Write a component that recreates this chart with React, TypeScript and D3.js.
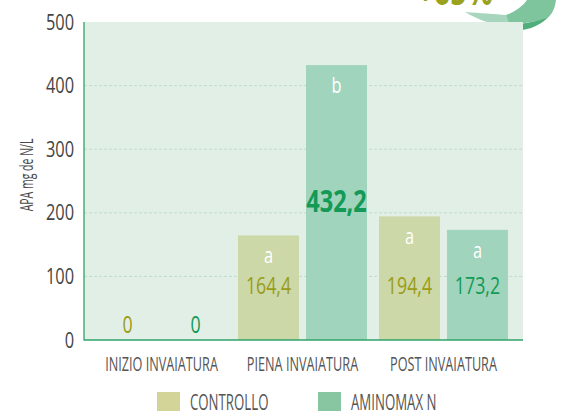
import React, { useEffect, useRef } from "react";
import * as d3 from "d3";

const categories = ["INIZIO INVAIATURA", "PIENA INVAIATURA", "POST INVAIATURA"];
const seriesNames = ["CONTROLLO", "AMINOMAX N"];
const controlloValues = [0, 164.4, 194.4];
const aminomaxValues = [0, 432.2, 173.2];
const controlloLetters = ["", "a", "a"];
const aminomaxLetters = ["", "b", "a"];
const valueLabels = [["0", "0"], ["164,4", "432,2"], ["194,4", "173,2"]];
const yTicks = [0, 100, 200, 300, 400, 500];
const yTitle = "APA mg de N/L";
const badgeText = "+65%";

const W = 562, H = 411;
const FONT = "'Open Sans', 'Noto Sans', sans-serif";

type Opt = { size: number; sx: number; anchor?: string; fill: string; weight?: string; rotate?: number };
function addText(sel: any, x: number, y: number, t: string, o: Opt) {
  return sel.append("text")
    .attr("transform", `translate(${x},${y})${o.rotate ? ` rotate(${o.rotate})` : ""} scale(${o.sx},1)`)
    .attr("text-anchor", o.anchor || "start")
    .attr("font-family", FONT)
    .attr("font-size", o.size)
    .attr("font-weight", o.weight || "normal")
    .attr("fill", o.fill)
    .text(t);
}

export default function App() {
  const ref = useRef<SVGSVGElement>(null);
  useEffect(() => {
    const svg = d3.select(ref.current);
    svg.selectAll("*").remove();
    const left = 84, right = 523, top = 22, bottom = 340;

    // decorative badge (cut off at the top)
    addText(svg, 455, 5, badgeText, { size: 40, sx: 0.72, anchor: "middle", fill: "#9aa21c", weight: "bold" });
    svg.append("path").attr("d", "M465,12 C480,13 495,14 506,15 L512,26 C495,26 478,20 465,12 Z")
      .attr("fill", "#a8d5bd");
    svg.append("path").attr("d", "M527,0 L556,0 C555,10 550,17 545,20 C530,22 518,24 510,25 L506,15 C515,12 523,6 527,0 Z")
      .attr("fill", "#7ec49c");
    svg.append("path").attr("d", "M488,25 C505,27 528,24 547,18 C539,27 525,31 510,31 C500,30 494,28 488,25 Z")
      .attr("fill", "#4fae7a");

    const y = d3.scaleLinear().domain([0, 500]).range([bottom, top]);
    const x0 = d3.scaleBand<string>().domain(categories).range([left - 1, right - 1]).paddingInner(0).paddingOuter(0.057);
    const x1 = d3.scaleBand<string>().domain(seriesNames).range([6, x0.bandwidth() - 6]).paddingInner(0.103);

    svg.append("rect").attr("x", left).attr("y", top).attr("width", right - left).attr("height", bottom - top)
      .attr("fill", "#e2efe7");

    const g = svg.append("g");
    g.selectAll("line.grid").data(yTicks.filter(t => t > 0 && t < 500)).enter().append("line")
      .attr("x1", left).attr("x2", right).attr("y1", d => y(d)).attr("y2", d => y(d))
      .attr("stroke", "#b5d8c4").attr("stroke-width", 0.8).attr("stroke-dasharray", "3,2");

    const colors = ["#ccd8a8", "#a0d4bc"];
    const labelColors = ["#9a9c16", "#129a56"];
    const data = categories.map((c, i) => ({ c, vals: [controlloValues[i], aminomaxValues[i]], letters: [controlloLetters[i], aminomaxLetters[i]], labels: valueLabels[i] }));

    data.forEach((d) => {
      d.vals.forEach((v, j) => {
        const bx = (x0(d.c) as number) + (x1(seriesNames[j]) as number);
        const bw = x1.bandwidth();
        if (v > 0) {
          g.append("rect").attr("x", bx).attr("y", y(v)).attr("width", bw).attr("height", y(0) - y(v)).attr("fill", colors[j]);
        }
        const cx = bx + bw / 2;
        if (d.letters[j]) {
          addText(g, cx, y(v) + 28, d.letters[j], { size: 21, sx: 0.78, anchor: "middle", fill: "#ffffff" });
        }
        const big = v > 400;
        if (v === 0) {
          addText(g, cx, y(0) - 7, d.labels[j], { size: 24, sx: 0.74, anchor: "middle", fill: labelColors[j] });
        } else if (big) {
          addText(g, cx, y(200) - 1, d.labels[j], { size: 29.5, sx: 0.8, anchor: "middle", fill: labelColors[j], weight: "bold" });
        } else {
          addText(g, cx, y(0) - 46, d.labels[j], { size: 24, sx: 0.74, anchor: "middle", fill: labelColors[j] });
        }
      });
    });

    // axes
    svg.append("line").attr("x1", left).attr("x2", left).attr("y1", top).attr("y2", bottom + 0.5).attr("stroke", "#2fa36a").attr("stroke-width", 1.3);
    svg.append("line").attr("x1", left).attr("x2", right).attr("y1", bottom).attr("y2", bottom).attr("stroke", "#2fa36a").attr("stroke-width", 1.3);

    yTicks.forEach(t => {
      addText(svg, 74, y(t) + 7.5, String(t), { size: 21, sx: 0.78, anchor: "end", fill: "#444" });
    });

    addText(svg, 32.5, 175, yTitle, { size: 17.5, sx: 0.6, anchor: "middle", fill: "#4a4a4a", rotate: -90 });

    categories.forEach(c => {
      addText(svg, (x0(c) as number) + x0.bandwidth() / 2, 371, c, { size: 19.5, sx: 0.65, anchor: "middle", fill: "#555" });
    });

    // legend
    const legX = [157, 318];
    seriesNames.forEach((s, i) => {
      svg.append("rect").attr("x", legX[i]).attr("y", 392).attr("width", 23).attr("height", 20).attr("fill", ["#d3d598", "#88c5a1"][i]);
      addText(svg, legX[i] + 33, 410, s, { size: 21, sx: 0.63, fill: "#555" });
    });
  }, []);
  return (
    <svg ref={ref} width={W} height={H} style={{ position: "absolute", left: 0, top: 0, background: "#fff" }} />
  );
}
